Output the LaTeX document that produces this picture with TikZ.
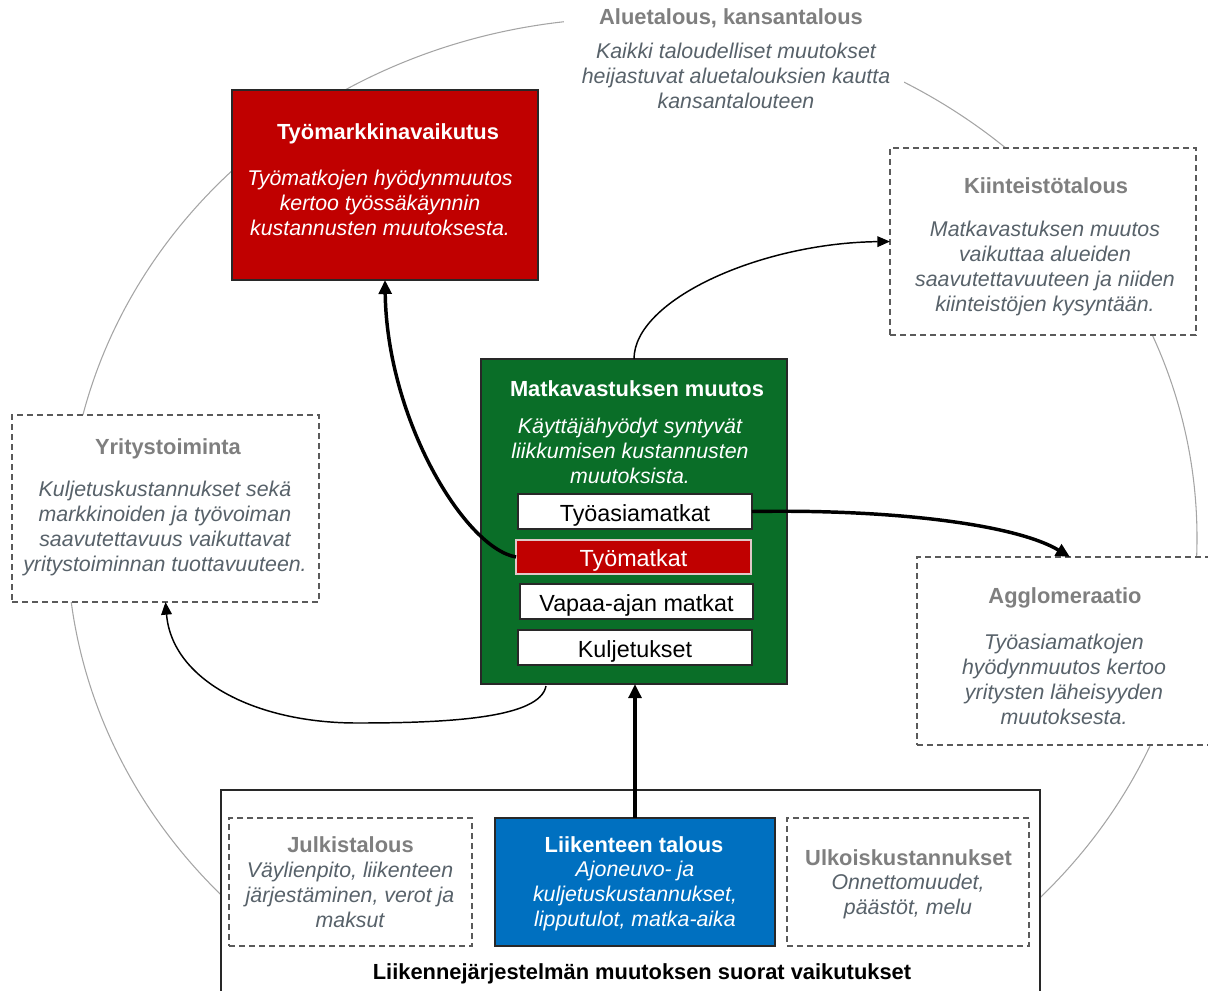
\documentclass[tikz,border=0pt]{standalone}
\usepackage{fontspec}
\setmainfont{Liberation Sans}
\usetikzlibrary{arrows.meta,calc}
\definecolor{tred}{RGB}{192,0,0}
\definecolor{tgreen}{RGB}{10,110,40}
\definecolor{tblue}{RGB}{0,112,192}
\definecolor{ttitle}{RGB}{127,127,127}
\definecolor{tbody}{RGB}{88,98,106}
\definecolor{tdash}{RGB}{90,90,90}
\definecolor{tcirc}{RGB}{165,165,165}
\definecolor{tedge}{RGB}{40,40,40}
\definecolor{tpink}{RGB}{225,200,200}
\begin{document}
\begin{tikzpicture}[x=0.75pt,y=-0.75pt,
 box/.style={rectangle, inner sep=0pt, outer sep=0pt},
 solidbox/.style={box, draw=tedge, line width=0.9pt},
 dashbox/.style={box, draw=tdash, fill=white, line width=0.9pt, dash pattern=on 4.5pt off 3pt},
 ttl/.style={font=\fontsize{16.4}{19}\selectfont\bfseries, inner sep=0pt, align=center},
 bdy/.style={font=\fontsize{16}{18.75}\selectfont\itshape, inner sep=0pt, align=center},
 itemtext/.style={font=\fontsize{17.5}{20}\selectfont, inner sep=0pt},
 thickarrow/.style={line width=2.6pt, -{Triangle[length=10.5pt,width=9.5pt]}},
 thinarrow/.style={line width=1.1pt, -{Triangle[length=9.5pt,width=8pt]}},
]
\useasboundingbox (0,0) rectangle (1208,990);
\clip (0,0) rectangle (1208,990);
% background ring
\draw[tcirc, line width=0.8pt] (632,538) ellipse [x radius=565, y radius=520];

% top title (white backed)
\node[ttl, text=ttitle, fill=white, inner xsep=26pt, inner ysep=8pt] (alt) at (731,18.5) {Aluetalous, kansantalous};
\node[bdy, text=tbody, fill=white, inner xsep=10.5pt, inner ysep=7pt] (alb) at (736,76) {Kaikki taloudelliset muutokset\\heijastuvat aluetalouksien kautta\\kansantalouteen};

% boxes
\node[solidbox, fill=tred, minimum width=229.5pt, minimum height=142.5pt] (tm) at (385,185) {};
\node[dashbox, minimum width=229.5pt, minimum height=140.25pt] (kt) at (1043,241.5) {};
\node[dashbox, minimum width=230.25pt, minimum height=140.25pt] (yt) at (165.5,508.5) {};
\node[dashbox, minimum width=223.5pt, minimum height=141pt] (ag) at (1066,651) {};
\node[solidbox, fill=tgreen, minimum width=229.5pt, minimum height=243.75pt] (gr) at (634,521.5) {};
\node[solidbox, fill=white, minimum width=175.5pt, minimum height=26.25pt] (i1) at (635,511.5) {};
\node[box, draw=tpink, line width=0.9pt, fill=tred, minimum width=176.25pt, minimum height=25.5pt] (i2) at (633.5,557) {};
\node[solidbox, fill=white, minimum width=174.75pt, minimum height=26.25pt] (i3) at (636.5,601.5) {};
\node[solidbox, fill=white, minimum width=175.5pt, minimum height=26.25pt] (i4) at (635,647.5) {};
\node[solidbox, fill=white, minimum width=614.25pt, minimum height=157.5pt] (bt) at (630.5,895) {};
\node[dashbox, minimum width=182.25pt, minimum height=96pt] (jt) at (350.5,882) {};
\node[solidbox, fill=tblue, minimum width=210pt, minimum height=96pt] (lt) at (635,882) {};
\node[dashbox, minimum width=181.5pt, minimum height=96pt] (uk) at (908,882) {};

% texts
\node[ttl, text=white] (tmt) at (388,133.5) {Työmarkkinavaikutus};
\node[bdy, text=white] (tmb) at (380,202.5) {Työmatkojen hyödynmuutos\\kertoo työssäkäynnin\\kustannusten muutoksesta.};

\node[ttl, text=ttitle] (ktt) at (1046,186) {Kiinteistötalous};
\node[bdy, text=tbody] (ktb) at (1045,268.5) {Matkavastuksen muutos\\vaikuttaa alueiden\\saavutettavuuteen ja niiden\\kiinteistöjen kysyntään.};

\node[ttl, text=ttitle] (ytt) at (168,449) {Yritystoiminta};
\node[bdy, text=tbody] (ytb) at (165,528.5) {Kuljetuskustannukset sekä\\markkinoiden ja työvoiman\\saavutettavuus vaikuttavat\\yritystoiminnan tuottavuuteen.};

\node[ttl, text=ttitle] (agt) at (1065,597.5) {Agglomeraatio};
\node[bdy, text=tbody] (agb) at (1064,679) {Työasiamatkojen\\hyödynmuutos kertoo\\yritysten läheisyyden\\muutoksesta.};

\node[ttl, text=white] (grt) at (637,389) {Matkavastuksen muutos};
\node[bdy, text=white] (grb) at (630,450.5) {Käyttäjähyödyt syntyvät\\liikkumisen kustannusten\\muutoksista.};

\node[itemtext, text=black] at ($(i1)+(0,3.5)$) {Työasiamatkat};
\node[itemtext, text=white] at ($(i2)+(0,3.5)$) {Työmatkat};
\node[itemtext, text=black] at ($(i3)+(0,3.5)$) {Vapaa-ajan matkat};
\node[itemtext, text=black] at ($(i4)+(0,3.5)$) {Kuljetukset};

\node[ttl, text=ttitle] (jtt) at (350.5,845) {Julkistalous};
\node[bdy, text=tbody] (jtb) at (350,894.5) {Väylienpito, liikenteen\\järjestäminen, verot ja\\maksut};

\node[ttl, text=white] (ltt) at (634,845) {Liikenteen talous};
\node[bdy, text=white] (ltb) at (635,895.5) {Ajoneuvo- ja\\kuljetuskustannukset,\\lipputulot, matka-aika};

\node[ttl, text=ttitle] (ukt) at (908.5,858) {Ulkoiskustannukset};
\node[bdy, text=tbody] (ukb) at (908,896.5) {Onnettomuudet,\\päästöt, melu};

\node[ttl, text=black] (btt) at (642,974) {Liikennejärjestelmän muutoksen suorat vaikutukset};

% connectors
\draw[thickarrow] (lt.north) -- (lt.north |- gr.south);
\draw[thickarrow] (i2.west) .. controls (465,548) and (387,420) .. (tm.south);
\coordinate (agin) at ($(ag.north west)+(153,0)$);
\draw[thickarrow] (i1.east) .. controls (890,509) and (1015,524) .. (agin);
\draw[thinarrow] (gr.north) .. controls (634,300) and (760,243) .. (kt.west);
\coordinate (grout) at ($(gr.south west)+(65,2)$);
\draw[thinarrow] (grout) .. controls (540,718) and (450,723) .. (357,723) .. controls (255,723) and (172,680) .. (yt.south);
\end{tikzpicture}
\end{document}
